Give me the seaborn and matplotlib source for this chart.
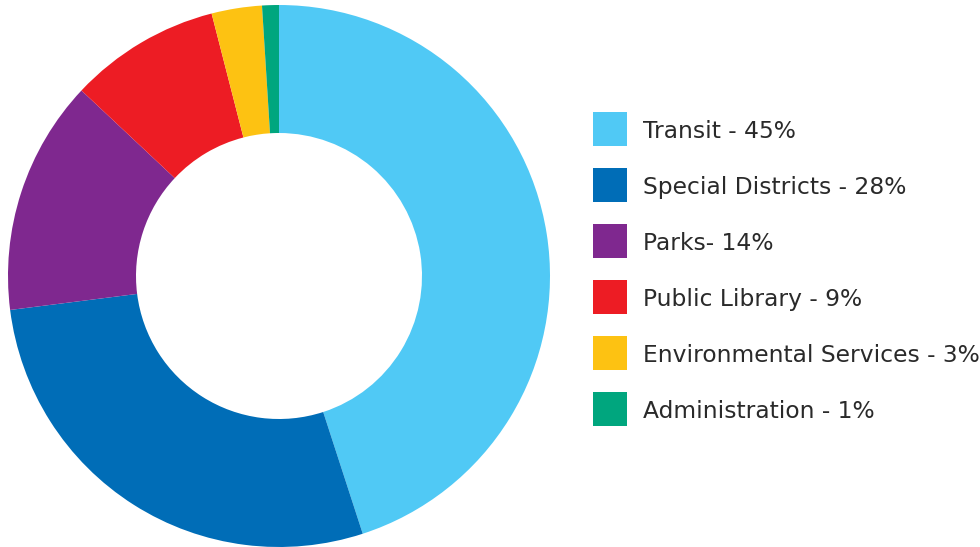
import matplotlib
matplotlib.use("Agg")
import matplotlib.pyplot as plt
from matplotlib.patches import Rectangle
import seaborn as sns

# Budget share by department
categories = ["Transit", "Special Districts", "Parks", "Public Library",
              "Environmental Services", "Administration"]
shares = [45, 28, 14, 9, 3, 1]
legend_labels = ["Transit - 45%", "Special Districts - 28%", "Parks- 14%",
                 "Public Library - 9%", "Environmental Services - 3%",
                 "Administration - 1%"]
colors = ["#50C9F5", "#006DB7", "#7F288F", "#ED1C24", "#FDC212", "#00A67E"]

sns.set_theme(style="white")
plt.rcParams["font.family"] = ["DejaVu Sans"]
palette = sns.color_palette(colors)

W, H = 980, 547
fig = plt.figure(figsize=(W / 100, H / 100), dpi=100)
fig.patch.set_facecolor("white")

# Donut: centre (279, 276) px from top-left, outer radius 271 px, hole radius 143 px
cx, cy, r = 279, 276, 271
ax = fig.add_axes([(cx - r) / W, (H - cy - r) / H, 2 * r / W, 2 * r / H])
ax.pie(shares, colors=palette, startangle=90, counterclock=False, radius=1.0,
       wedgeprops=dict(width=1 - 143 / 271, linewidth=0))
ax.set_xlim(-1, 1)
ax.set_ylim(-1, 1)
ax.set_aspect("equal")
ax.axis("off")

# Legend as coloured squares with labels
box_x, box_w = 593, 34
text_x = 643
row_y0, row_dy = 129, 56
for i, (lab, col) in enumerate(zip(legend_labels, palette)):
    yc = row_y0 + i * row_dy
    fig.patches.append(Rectangle(((box_x) / W, (H - yc - box_w / 2) / H),
                                 box_w / W, box_w / H, transform=fig.transFigure,
                                 facecolor=col, edgecolor="none"))
    fig.text(text_x / W, (H - yc) / H, lab, ha="left", va="center_baseline",
             fontsize=16.8, color="#2A2A2A")

fig.savefig("out.png", dpi=100, facecolor="white")
